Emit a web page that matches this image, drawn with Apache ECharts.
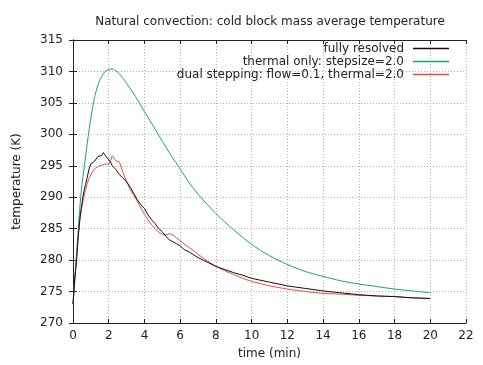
<!DOCTYPE html>
<html><head><meta charset="utf-8">
<script src="https://cdn.jsdelivr.net/npm/echarts@6/dist/echarts.min.js"></script>
<style>html,body{margin:0;padding:0;background:#fff}#c{width:483px;height:365px}</style>
</head><body><div id="c"></div>
<script>
const seriesNames = ["fully resolved", "thermal only: stepsize=2.0", "dual stepping: flow=0.1, thermal=2.0"];
const xTicks = [0,2,4,6,8,10,12,14,16,18,20,22];
const yTicks = [270,275,280,285,290,295,300,305,310,315];

const fullyTime = [0,0.1,0.2,0.3,0.4,0.5,0.6,0.7,0.8,0.9,1.0,1.1,1.2,1.3,1.4,1.5,1.6,1.7,1.8,1.9,2.0,2.1,2.2,2.4,2.6,2.8,3.0,3.2,3.4,3.6,3.8,4.0,4.2,4.4,4.6,4.8,5.0,5.2,5.4,5.6,5.8,6.0,6.2,6.5,7.0,7.5,8.0,8.5,9.0,9.5,10,11,12,13,14,15,16,17,18,19,20];
const fullyTemp = [273,277,280,284,287,289,290.8,292,293.2,294.5,295.3,295.6,295.7,295.9,296.5,296.8,296.6,297.1,296.7,296.3,296.1,295.6,295.0,294.4,293.6,293.0,292.5,291.6,290.6,289.6,288.8,288.2,287.2,286.4,285.8,285.0,284.5,283.8,283.2,282.9,282.6,282.3,281.7,281.3,280.4,279.7,279.0,278.5,278.0,277.6,277.1,276.5,275.9,275.5,275.1,274.8,274.5,274.3,274.2,274.0,273.9];

const thermalTime = [0,0.1,0.2,0.3,0.4,0.5,0.6,0.7,0.8,0.9,1.0,1.1,1.2,1.4,1.6,1.8,2.0,2.2,2.4,2.6,2.8,3.0,3.5,4.0,4.5,5.0,5.5,6.0,6.5,7.0,7.5,8.0,9,10,11,12,13,14,15,16,17,18,19,20];
const thermalTemp = [273,277,281,285,289,292,294.2,296.4,298.6,300.7,302.6,304.3,305.8,307.9,309.2,310,310.3,310.4,310.1,309.6,308.9,308.1,306,303.6,301.3,298.9,296.6,294.5,292.3,290.5,288.9,287.4,284.8,282.5,280.7,279.3,278.2,277.4,276.7,276.2,275.8,275.4,275.1,274.8];

const dualTime = [0,0.1,0.2,0.3,0.4,0.5,0.6,0.7,0.8,0.9,1.0,1.1,1.2,1.4,1.6,1.8,2.0,2.1,2.2,2.3,2.4,2.5,2.6,2.7,2.8,3.0,3.2,3.4,3.6,3.8,4.0,4.2,4.4,4.6,4.8,5.0,5.2,5.4,5.6,5.8,6.0,6.2,6.5,6.8,7.0,7.5,8.0,8.5,9.0,9.5,10,11,12,13,14,15,16,17,18,19,20];
const dualTemp = [273,277,280.5,284,286.8,288.5,290,291.2,292.2,293,293.6,294.1,294.5,294.9,295.1,295.3,295.2,295.8,296.6,296.3,295.8,295.9,295.6,294.8,293.9,292.5,291.2,290.3,289.4,288.3,287.3,286.4,285.6,285.0,284.4,284.1,284.0,284.2,284.0,283.5,283.1,282.6,282.0,281.4,280.9,279.9,279.0,278.3,277.7,277.1,276.6,275.9,275.4,275.0,274.7,274.6,274.4,274.3,274.2,274.0,273.9];

const zip = (a,b) => a.map((v,i)=>[v,b[i]]);
const font = 'DejaVu Sans';
const txt = {fontFamily:font, fontSize:12, color:'#222'};
const gridLine = {show:true, lineStyle:{color:'#b0b0b0', type:[1,2], width:1}};
const chart = echarts.init(document.getElementById('c'), null, {renderer:'canvas'});
chart.setOption({
  animation:false,
  title:{text:'Natural convection: cold block mass average temperature', left:265, textAlign:'center', top:11,
    textStyle:Object.assign({fontWeight:'normal'}, txt)},
  legend:{orient:'vertical', right:29, top:37, align:'right', icon:'rect', itemWidth:36, itemHeight:1.5, itemGap:0,
    textStyle:Object.assign({lineHeight:13, padding:[0,4,0,0]}, txt), data:seriesNames},
  grid:{left:73, right:17, top:40, bottom:42},
  xAxis:[{type:'value', min:xTicks[0], max:xTicks[xTicks.length-1], interval:2,
    name:'time (min)', nameLocation:'middle', nameGap:25, nameTextStyle:txt,
    axisLine:{show:true, lineStyle:{color:'#222'}}, axisTick:{inside:true, length:4, lineStyle:{color:'#222'}},
    axisLabel:Object.assign({margin:7}, txt), splitLine:gridLine},
    {type:'value', position:'top', min:xTicks[0], max:xTicks[xTicks.length-1], interval:2,
    axisLine:{show:true, lineStyle:{color:'#222'}}, axisTick:{inside:true, length:4, lineStyle:{color:'#222'}},
    axisLabel:{show:false}, splitLine:{show:false}}],
  yAxis:[{type:'value', min:yTicks[0], max:yTicks[yTicks.length-1], interval:5,
    name:'temperature (K)', nameLocation:'middle', nameGap:50, nameTextStyle:txt,
    axisLine:{show:true, lineStyle:{color:'#222'}}, axisTick:{inside:true, length:4, lineStyle:{color:'#222'}},
    axisLabel:Object.assign({margin:10}, txt), splitLine:gridLine},
    {type:'value', position:'right', min:yTicks[0], max:yTicks[yTicks.length-1], interval:5,
    axisLine:{show:true, lineStyle:{color:'#222'}}, axisTick:{inside:true, length:4, lineStyle:{color:'#222'}},
    axisLabel:{show:false}, splitLine:{show:false}}],
  series:[
    {name:seriesNames[0], type:'line', symbol:'none', data:zip(fullyTime, fullyTemp), lineStyle:{color:'#111', width:1}, itemStyle:{color:'#111'}, z:4},
    {name:seriesNames[1], type:'line', symbol:'none', smooth:0.3, data:zip(thermalTime, thermalTemp), lineStyle:{color:'#1aa07a', width:1}, itemStyle:{color:'#1aa07a'}, z:3},
    {name:seriesNames[2], type:'line', symbol:'none', data:zip(dualTime, dualTemp), lineStyle:{color:'#f04a44', width:1}, itemStyle:{color:'#f04a44'}, z:3}
  ]
});
</script></body></html>
